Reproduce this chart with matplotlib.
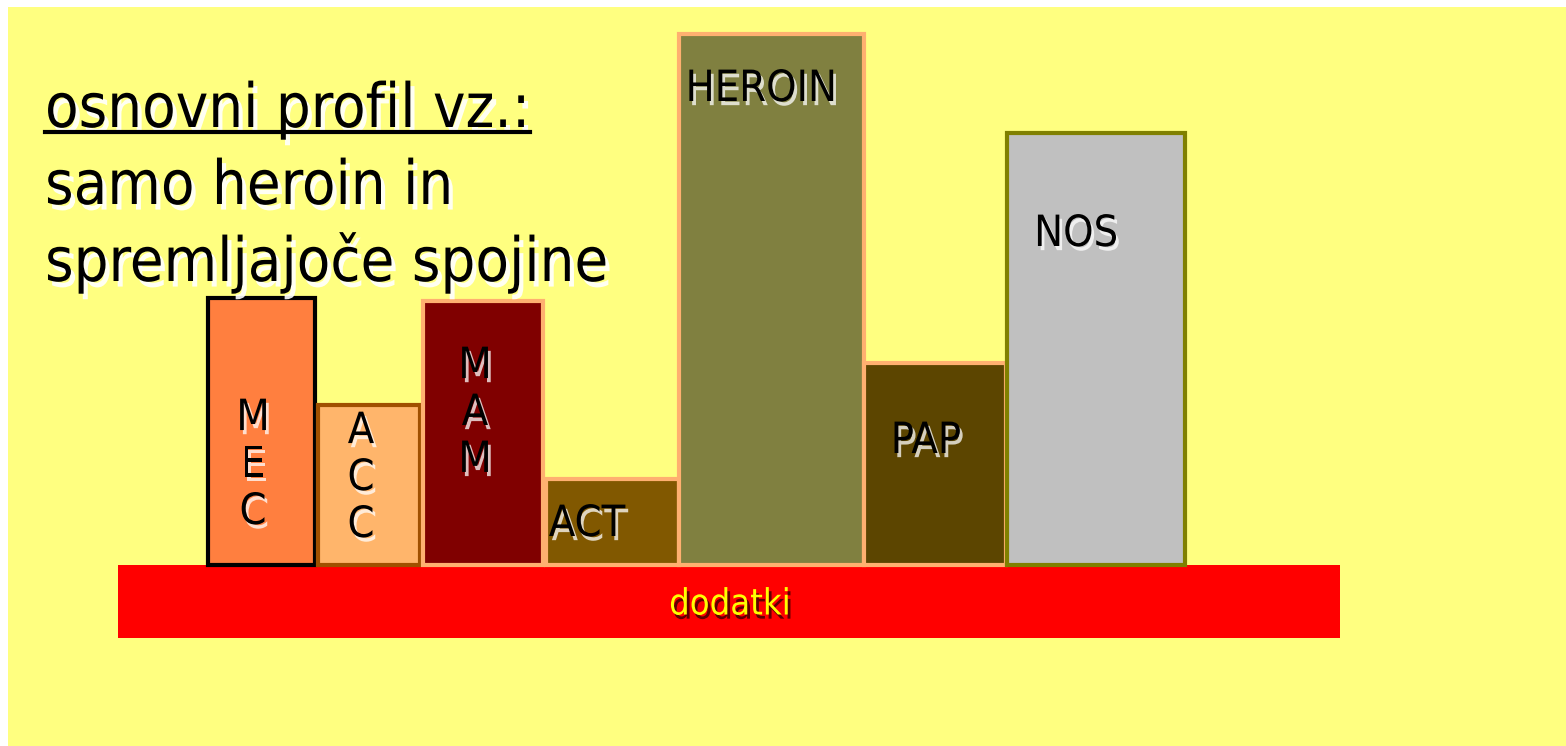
import matplotlib.pyplot as plt
import matplotlib.patheffects as pe
from matplotlib.patches import Rectangle
from matplotlib.lines import Line2D

# bar data (pixel units of the original slide, baseline = top of red strip)
names = ["MEC", "ACC", "MAM", "ACT", "HEROIN", "PAP", "NOS"]
heights = [267, 160, 264, 86, 531, 202, 432]
widths = [107, 102, 120, 133, 185, 142, 178]
labels = ["M\nE\nC", "A\nC\nC", "M\nA\nM", "ACT", "HEROIN", "PAP", "NOS"]

base_label = "dodatki"
base_width = 1222
base_height = 73

title_lines = ["osnovni profil vz.:", "samo heroin in", "spremljajoče spojine"]

# layout / style
fills = ["#FF7F3F", "#FFB56B", "#800000", "#815800", "#808040", "#5C4500", "#C0C0C0"]
edges = ["#000000", "#A05000", "#FFB070", "#FFB070", "#FFB070", "#FFB070", "#808000"]
gaps = [0, 3, 3, 3, 0, 0, 1]
label_xy = [(253, 100), (361, 87), (475, 152), (587, 41), (761, 476), (926, 124), (1076, 331)]
start_x = 208
base_x = 118

plt.rcParams["font.family"] = ["DejaVu Sans"]
plt.rcParams["font.stretch"] = "condensed"

W, H = 1566, 746
fig = plt.figure(figsize=(W / 100, H / 100), dpi=100)
ax = fig.add_axes([0, 0, 1, 1])
ax.set_xlim(0, W)
ax.set_ylim(565 - H, 565)
ax.axis("off")

ax.add_patch(Rectangle((8, 565 - H), W, H - 7, facecolor="#FFFF80", edgecolor="none", zorder=0))

# red base strip
ax.bar(base_x, base_height, width=base_width, bottom=-base_height, align="edge",
       color="#FF0000", edgecolor="none", zorder=2)
ax.text(base_x + base_width / 2 + 1, -base_height / 2 - 3, base_label, ha="center", va="center",
        fontsize=26, color="#FFFF00", zorder=5,
        path_effects=[pe.withSimplePatchShadow(offset=(2, -3), shadow_rgbFace="#500000", alpha=0.9)])

lefts = []
x = start_x
for w, g in zip(widths, gaps):
    x += g
    lefts.append(x)
    x += w

shadow = [pe.withSimplePatchShadow(offset=(2, -3), shadow_rgbFace="white", alpha=0.75)]
for i in range(len(names)):
    ax.bar(lefts[i], heights[i], width=widths[i], align="edge", color=fills[i],
           edgecolor=edges[i], linewidth=3, zorder=3)
    lx, ly = label_xy[i]
    ax.text(lx, ly, labels[i], ha="center", va="center", fontsize=31, color="black",
            linespacing=1.15, zorder=5, path_effects=shadow)

# title block
title_shadow = [pe.withSimplePatchShadow(offset=(3, -4), shadow_rgbFace="white", alpha=0.9)]
baselines = [438, 361, 284]
txts = []
for line, yb in zip(title_lines, baselines):
    t = ax.text(45, yb, line, ha="left", va="baseline", fontsize=44, color="black",
                zorder=6, path_effects=title_shadow)
    txts.append(t)

# underline first line
fig.canvas.draw()
bb = txts[0].get_window_extent().transformed(ax.transData.inverted())
ax.add_line(Line2D([bb.x0, bb.x1], [baselines[0] - 5, baselines[0] - 5], color="black",
                   linewidth=3, zorder=6, path_effects=title_shadow))

fig.savefig("out.png", dpi=100)
